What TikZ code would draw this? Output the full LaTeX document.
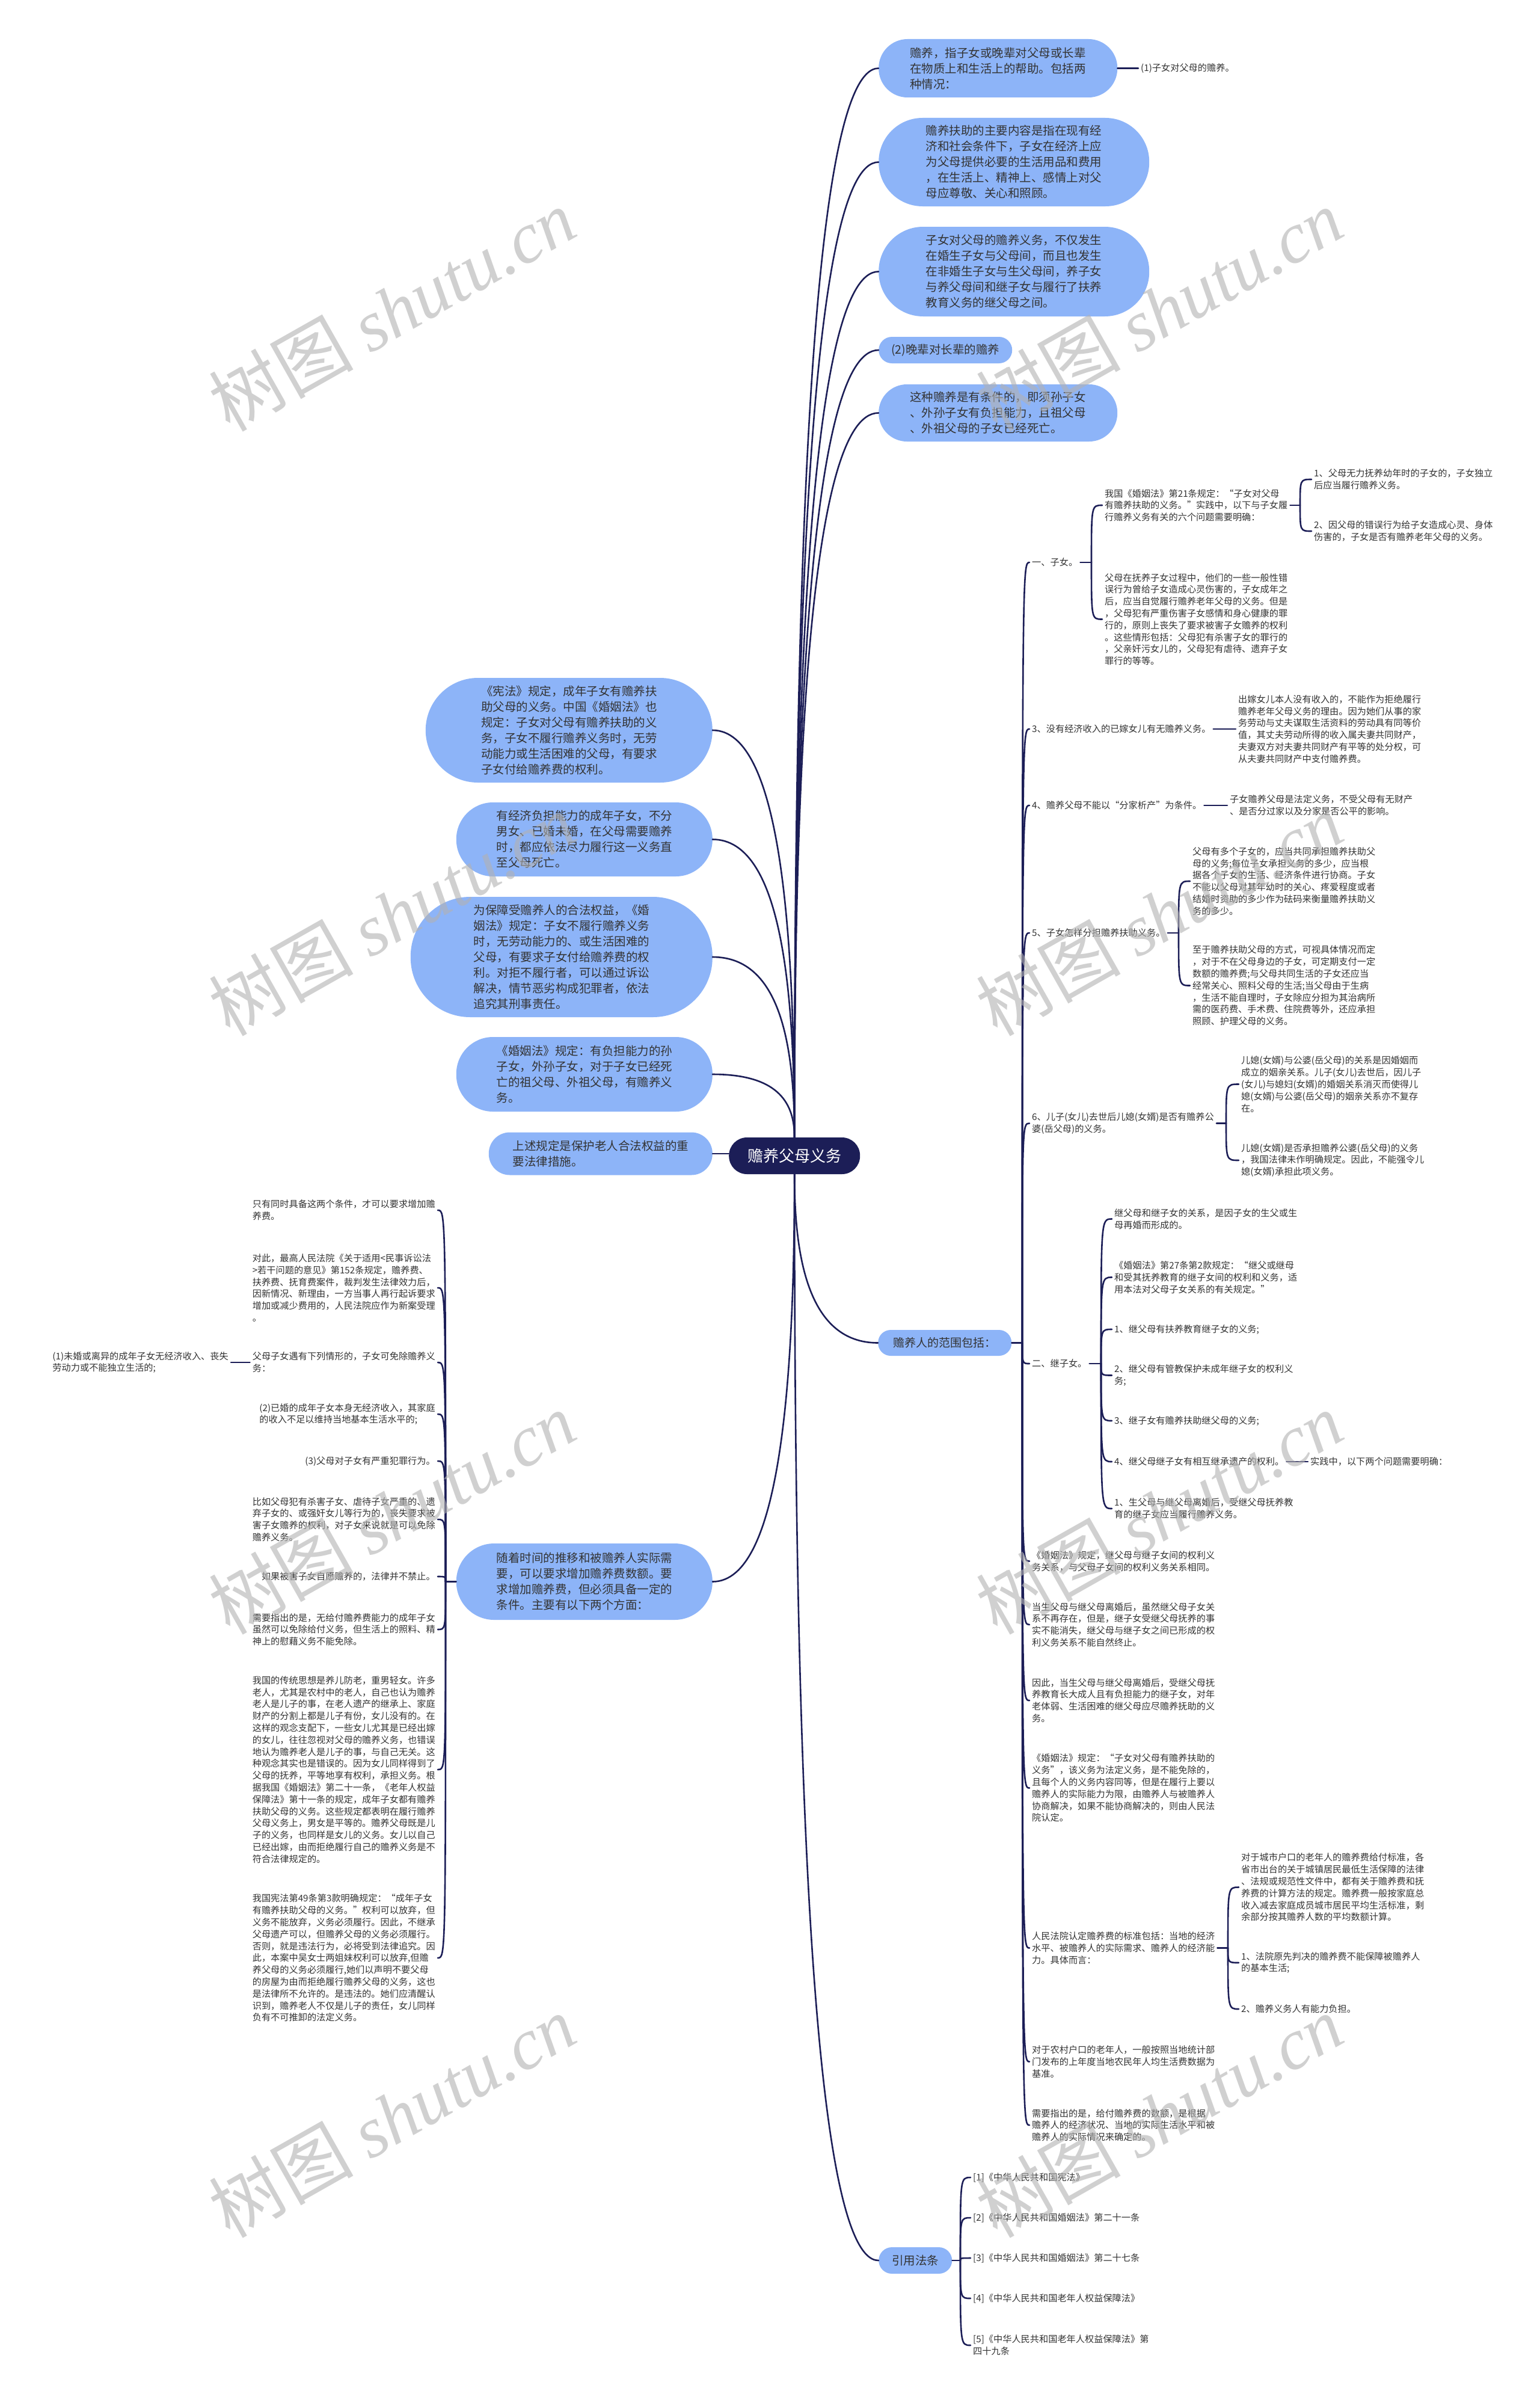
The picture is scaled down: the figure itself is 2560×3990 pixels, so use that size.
\documentclass[tikz,border=0pt]{standalone}
\usepackage{fontspec}
\setmainfont{Noto Sans CJK SC}
\newfontfamily\wmlatin{Liberation Serif}
\usetikzlibrary{calc}
\definecolor{navy}{HTML}{1C1E57}
\definecolor{bblue}{HTML}{8DB4F8}
\definecolor{tgray}{HTML}{333333}
\begin{document}
\begin{tikzpicture}[x=1pt,y=-1pt]
\tikzset{
 conn/.style={draw=navy, line width=2.6pt, line cap=round, line join=round},
 txt/.style={font=\fontsize{15.2}{19.8}\selectfont, align=left, inner xsep=4pt, inner ysep=1pt, text=tgray},
 bub/.style={fill=bblue, font=\fontsize{19.5}{26}\selectfont, align=left, text=tgray, inner sep=0pt},
 rootn/.style={fill=navy, text=white, font=\fontsize{26}{30}\selectfont, inner sep=0pt},
 wm/.style={rotate=29.5, text=black!30, opacity=0.6, font=\fontsize{120}{130}\selectfont},
}
\fill[white] (0,0) rectangle (2560,3990);
\useasboundingbox (0,0) rectangle (2560,3990);

% ---------- root ----------
\node[rootn, anchor=west, minimum width=218, minimum height=61, rounded corners=30] (root) at (1212,1921.5) {赡养父母义务};

% ---------- right top bubbles ----------
\node[bub, anchor=west, minimum width=397, minimum height=97, rounded corners=48] (r1) at (1461,113.5)
 {赡养，指子女或晚辈对父母或长辈\\在物质上和生活上的帮助。包括两\\种情况：};
\node[txt, anchor=west] (r1a) at (1893,113.5) {(1)子女对父母的赡养。};
\node[bub, anchor=west, minimum width=450, minimum height=147, rounded corners=73] (r2) at (1461,269.5)
 {赡养扶助的主要内容是指在现有经\\济和社会条件下，子女在经济上应\\为父母提供必要的生活用品和费用\\，在生活上、精神上、感情上对父\\母应尊敬、关心和照顾。};
\node[bub, anchor=west, minimum width=450, minimum height=149, rounded corners=74] (r3) at (1461,451.5)
 {子女对父母的赡养义务，不仅发生\\在婚生子女与父母间，而且也发生\\在非婚生子女与生父母间，养子女\\与养父母间和继子女与履行了扶养\\教育义务的继父母之间。};
\node[bub, anchor=west, minimum width=222, minimum height=44, rounded corners=22] (r4) at (1461,582)
 {(2)晚辈对长辈的赡养};
\node[bub, anchor=west, minimum width=397, minimum height=95, rounded corners=47] (r5) at (1461,686.5)
 {这种赡养是有条件的，即须孙子女\\、外孙子女有负担能力，且祖父母\\、外祖父母的子女已经死亡。};

% ---------- left bubbles ----------
\node[bub, anchor=east, minimum width=477, minimum height=174, rounded corners=87] (l1) at (1185,1214)
 {《宪法》规定，成年子女有赡养扶\\助父母的义务。中国《婚姻法》也\\规定：子女对父母有赡养扶助的义\\务，子女不履行赡养义务时，无劳\\动能力或生活困难的父母，有要求\\子女付给赡养费的权利。};
\node[bub, anchor=east, minimum width=426, minimum height=123, rounded corners=61] (l2) at (1185,1395.5)
 {有经济负担能力的成年子女，不分\\男女、已婚未婚，在父母需要赡养\\时，都应依法尽力履行这一义务直\\至父母死亡。};
\node[bub, anchor=east, minimum width=502, minimum height=200, rounded corners=99] (l3) at (1185,1591)
 {为保障受赡养人的合法权益，《婚\\姻法》规定：子女不履行赡养义务\\时，无劳动能力的、或生活困难的\\父母，有要求子女付给赡养费的权\\利。对拒不履行者，可以通过诉讼\\解决，情节恶劣构成犯罪者，依法\\追究其刑事责任。};
\node[bub, anchor=east, minimum width=426, minimum height=124, rounded corners=61] (l4) at (1185,1786)
 {《婚姻法》规定：有负担能力的孙\\子女，外孙子女，对于子女已经死\\亡的祖父母、外祖父母，有赡养义\\务。};
\node[bub, anchor=east, minimum width=372, minimum height=71, rounded corners=35] (l5) at (1185,1918)
 {上述规定是保护老人合法权益的重\\要法律措施。};
\node[bub, anchor=east, minimum width=426, minimum height=127, rounded corners=63] (l6) at (1185,2629.5)
 {随着时间的推移和被赡养人实际需\\要，可以要求增加赡养费数额。要\\求增加赡养费，但必须具备一定的\\条件。主要有以下两个方面：};

% ---------- left column (children of l6) ----------
\node[txt, anchor=east] (c1) at (728,2012) {只有同时具备这两个条件，才可以要求增加赡\\养费。};
\node[txt, anchor=east] (c2) at (728,2141) {对此，最高人民法院《关于适用<民事诉讼法\\>若干问题的意见》第152条规定，赡养费、\\扶养费、抚育费案件，裁判发生法律效力后，\\因新情况、新理由，一方当事人再行起诉要求\\增加或减少费用的，人民法院应作为新案受理\\。};
\node[txt, anchor=east] (c3) at (728,2265) {父母子女遇有下列情形的，子女可免除赡养义\\务：};
\node[txt, anchor=east] (c3a) at (384,2265) {(1)未婚或离异的成年子女无经济收入、丧失\\劳动力或不能独立生活的;};
\node[txt, anchor=east] (c4) at (728,2351) {(2)已婚的成年子女本身无经济收入，其家庭\\的收入不足以维持当地基本生活水平的;};
\node[txt, anchor=east] (c5) at (728,2429) {(3)父母对子女有严重犯罪行为。};
\node[txt, anchor=east] (c6) at (728,2526) {比如父母犯有杀害子女、虐待子女严重的、遗\\弃子女的、或强奸女儿等行为的，丧失要求被\\害子女赡养的权利，对子女来说就是可以免除\\赡养义务。};
\node[txt, anchor=east] (c7) at (728,2621) {如果被害子女自愿赡养的，法律并不禁止。};
\node[txt, anchor=east] (c8) at (728,2709) {需要指出的是，无给付赡养费能力的成年子女\\虽然可以免除给付义务，但生活上的照料、精\\神上的慰藉义务不能免除。};
\node[txt, anchor=east] (c9) at (728,2942) {我国的传统思想是养儿防老，重男轻女。许多\\老人，尤其是农村中的老人，自己也认为赡养\\老人是儿子的事，在老人遗产的继承上、家庭\\财产的分割上都是儿子有份，女儿没有的。在\\这样的观念支配下，一些女儿尤其是已经出嫁\\的女儿，往往忽视对父母的赡养义务，也错误\\地认为赡养老人是儿子的事，与自己无关。这\\种观念其实也是错误的。因为女儿同样得到了\\父母的抚养，平等地享有权利，承担义务。根\\据我国《婚姻法》第二十一条，《老年人权益\\保障法》第十一条的规定，成年子女都有赡养\\扶助父母的义务。这些规定都表明在履行赡养\\父母义务上，男女是平等的。赡养父母既是儿\\子的义务，也同样是女儿的义务。女儿以自己\\已经出嫁，由而拒绝履行自己的赡养义务是不\\符合法律规定的。};
\node[txt, anchor=east] (c10) at (728,3255) {我国宪法第49条第3款明确规定：“成年子女\\有赡养扶助父母的义务。”权利可以放弃，但\\义务不能放弃，义务必须履行。因此，不继承\\父母遗产可以，但赡养父母的义务必须履行。\\否则，就是违法行为，必将受到法律追究。因\\此，本案中吴女士两姐妹权利可以放弃,但赡\\养父母的义务必须履行,她们以声明不要父母\\的房屋为由而拒绝履行赡养父母的义务，这也\\是法律所不允许的。是违法的。她们应清醒认\\识到，赡养老人不仅是儿子的责任，女儿同样\\负有不可推卸的法定义务。};

% ---------- 赡养人的范围包括 ----------
\node[bub, anchor=west, minimum width=222, minimum height=43, rounded corners=21, font=\fontsize{19}{24}\selectfont] (s) at (1460,2232.5) {赡养人的范围包括：};

\node[txt, anchor=west] (a1) at (1712,935) {一、子女。};
\node[txt, anchor=west] (b1) at (1833,840) {我国《婚姻法》第21条规定：“子女对父母\\有赡养扶助的义务。”实践中，以下与子女履\\行赡养义务有关的六个问题需要明确：};
\node[txt, anchor=west] (b1a) at (2181,797) {1、父母无力抚养幼年时的子女的，子女独立\\后应当履行赡养义务。};
\node[txt, anchor=west] (b1b) at (2181,883) {2、因父母的错误行为给子女造成心灵、身体\\伤害的，子女是否有赡养老年父母的义务。};
\node[txt, anchor=west] (b2) at (1833,1029.5) {父母在抚养子女过程中，他们的一些一般性错\\误行为曾给子女造成心灵伤害的，子女成年之\\后，应当自觉履行赡养老年父母的义务。但是\\，父母犯有严重伤害子女感情和身心健康的罪\\行的，原则上丧失了要求被害子女赡养的权利\\。这些情形包括：父母犯有杀害子女的罪行的\\，父亲奸污女儿的，父母犯有虐待、遗弃子女\\罪行的等等。};

\node[txt, anchor=west] (a3) at (1712,1212) {3、没有经济收入的已嫁女儿有无赡养义务。};
\node[txt, anchor=west] (a3c) at (2055,1212) {出嫁女儿本人没有收入的，不能作为拒绝履行\\赡养老年父母义务的理由。因为她们从事的家\\务劳动与丈夫谋取生活资料的劳动具有同等价\\值，其丈夫劳动所得的收入属夫妻共同财产，\\夫妻双方对夫妻共同财产有平等的处分权，可\\从夫妻共同财产中支付赡养费。};

\node[txt, anchor=west] (a4) at (1712,1339) {4、赡养父母不能以“分家析产”为条件。};
\node[txt, anchor=west] (a4c) at (2041,1339) {子女赡养父母是法定义务，不受父母有无财产\\、是否分过家以及分家是否公平的影响。};

\node[txt, anchor=west] (a5) at (1712,1551) {5、子女怎样分担赡养扶助义务。};
\node[txt, anchor=west] (b5a) at (1979,1465) {父母有多个子女的，应当共同承担赡养扶助父\\母的义务;每位子女承担义务的多少，应当根\\据各个子女的生活、经济条件进行协商。子女\\不能以父母对其年幼时的关心、疼爱程度或者\\结婚时资助的多少作为砝码来衡量赡养扶助义\\务的多少。};
\node[txt, anchor=west] (b5b) at (1979,1638.5) {至于赡养扶助父母的方式，可视具体情况而定\\，对于不在父母身边的子女，可定期支付一定\\数额的赡养费;与父母共同生活的子女还应当\\经常关心、照料父母的生活;当父母由于生病\\，生活不能自理时，子女除应分担为其治病所\\需的医药费、手术费、住院费等外，还应承担\\照顾、护理父母的义务。};

\node[txt, anchor=west] (a6) at (1712,1867.5) {6、儿子(女儿)去世后儿媳(女婿)是否有赡养公\\婆(岳父母)的义务。};
\node[txt, anchor=west] (b6a) at (2060,1802.5) {儿媳(女婿)与公婆(岳父母)的关系是因婚姻而\\成立的姻亲关系。儿子(女儿)去世后，因儿子\\(女儿)与媳妇(女婿)的婚姻关系消灭而使得儿\\媳(女婿)与公婆(岳父母)的姻亲关系亦不复存\\在。};
\node[txt, anchor=west] (b6b) at (2060,1929) {儿媳(女婿)是否承担赡养公婆(岳父母)的义务\\，我国法律未作明确规定。因此，不能强令儿\\媳(女婿)承担此项义务。};

\node[txt, anchor=west] (a7) at (1712,2267) {二、继子女。};
\node[txt, anchor=west] (b7a) at (1849,2026.5) {继父母和继子女的关系，是因子女的生父或生\\母再婚而形成的。};
\node[txt, anchor=west] (b7b) at (1849,2123.5) {《婚姻法》第27条第2款规定：“继父或继母\\和受其抚养教育的继子女间的权利和义务，适\\用本法对父母子女关系的有关规定。”};
\node[txt, anchor=west] (b7c) at (1849,2210) {1、继父母有扶养教育继子女的义务;};
\node[txt, anchor=west] (b7d) at (1849,2286.5) {2、继父母有管教保护未成年继子女的权利义\\务;};
\node[txt, anchor=west] (b7e) at (1849,2362) {3、继子女有赡养扶助继父母的义务;};
\node[txt, anchor=west] (b7f) at (1849,2430) {4、继父母继子女有相互继承遗产的权利。};
\node[txt, anchor=west] (b7fc) at (2175,2430) {实践中，以下两个问题需要明确：};
\node[txt, anchor=west] (b7g) at (1849,2508) {1、生父母与继父母离婚后，受继父母抚养教\\育的继子女应当履行赡养义务。};

\node[txt, anchor=west] (a8) at (1712,2595.5) {《婚姻法》规定，继父母与继子女间的权利义\\务关系，与父母子女间的权利义务关系相同。};
\node[txt, anchor=west] (a9) at (1712,2701) {当生父母与继父母离婚后，虽然继父母子女关\\系不再存在，但是，继子女受继父母抚养的事\\实不能消失，继父母与继子女之间已形成的权\\利义务关系不能自然终止。};
\node[txt, anchor=west] (a10) at (1712,2827) {因此，当生父母与继父母离婚后，受继父母抚\\养教育长大成人且有负担能力的继子女，对年\\老体弱、生活困难的继父母应尽赡养抚助的义\\务。};
\node[txt, anchor=west] (a11) at (1712,2972.5) {《婚姻法》规定：“子女对父母有赡养扶助的\\义务”，该义务为法定义务，是不能免除的，\\且每个人的义务内容同等，但是在履行上要以\\赡养人的实际能力为限，由赡养人与被赡养人\\协商解决，如果不能协商解决的，则由人民法\\院认定。};
\node[txt, anchor=west] (a12) at (1712,3238.5) {人民法院认定赡养费的标准包括：当地的经济\\水平、被赡养人的实际需求、赡养人的经济能\\力。具体而言：};
\node[txt, anchor=west] (b12a) at (2060,3137.5) {对于城市户口的老年人的赡养费给付标准，各\\省市出台的关于城镇居民最低生活保障的法律\\、法规或规范性文件中，都有关于赡养费和抚\\养费的计算方法的规定。赡养费一般按家庭总\\收入减去家庭成员城市居民平均生活标准，剩\\余部分按其赡养人数的平均数额计算。};
\node[txt, anchor=west] (b12b) at (2060,3263) {1、法院原先判决的赡养费不能保障被赡养人\\的基本生活;};
\node[txt, anchor=west] (b12c) at (2060,3340) {2、赡养义务人有能力负担。};
\node[txt, anchor=west] (a13) at (1712,3427.5) {对于农村户口的老年人，一般按照当地统计部\\门发布的上年度当地农民年人均生活费数据为\\基准。};
\node[txt, anchor=west] (a14) at (1712,3533) {需要指出的是，给付赡养费的数额，是根据\\赡养人的经济状况、当地的实际生活水平和被\\赡养人的实际情况来确定的。};

% ---------- 引用法条 ----------
\node[bub, anchor=west, minimum width=122, minimum height=44, rounded corners=22] (y) at (1461,3758) {引用法条};
\node[txt, anchor=west] (y1) at (1614,3620) {[1]《中华人民共和国宪法》};
\node[txt, anchor=west] (y2) at (1614,3687) {[2]《中华人民共和国婚姻法》第二十一条};
\node[txt, anchor=west] (y3) at (1614,3754) {[3]《中华人民共和国婚姻法》第二十七条};
\node[txt, anchor=west] (y4) at (1614,3821) {[4]《中华人民共和国老年人权益保障法》};
\node[txt, anchor=west] (y5) at (1614,3899) {[5]《中华人民共和国老年人权益保障法》第\\四十九条};

% ---------- junction coordinates ----------
\coordinate (sj) at (1700,2232.5);
\coordinate (a1j) at (1815,935);
\coordinate (b1j) at (2162,840);
\coordinate (a5j) at (1960,1551);
\coordinate (a6j) at (2039,1867.5);
\coordinate (a7j) at (1831,2267);
\coordinate (a12j) at (2042,3238.5);
\coordinate (yj) at (1597,3758);
\coordinate (l6j) at (741,2629.5);

% ---------- root connectors ----------
\draw[conn] (root.north) .. controls (1321,1002) and (1345,113.5) .. (r1.west);
\draw[conn] (root.north) .. controls (1321,1080) and (1345,269.5) .. (r2.west);
\draw[conn] (root.north) .. controls (1321,1171) and (1345,451.5) .. (r3.west);
\draw[conn] (root.north) .. controls (1321,1236) and (1345,582) .. (r4.west);
\draw[conn] (root.north) .. controls (1321,1289) and (1345,686.5) .. (r5.west);
\draw[conn] (r1.east) -- (r1a.west);

\draw[conn] (root.north) .. controls (1321,1552) and (1299,1214) .. (l1.east);
\draw[conn] (root.north) .. controls (1321,1643) and (1299,1395.5) .. (l2.east);
\draw[conn] (root.north) .. controls (1321,1741) and (1299,1591) .. (l3.east);
\draw[conn] (root.north) .. controls (1321,1838) and (1299,1786) .. (l4.east);
\draw[conn] (l5.east) -- (l5.east -| root.west);
\draw[conn] (root.south) .. controls (1321,2290) and (1299,2629.5) .. (l6.east);

\draw[conn] (root.south) .. controls (1321,2092) and (1345,2232.5) .. (s.west);
\draw[conn] (root.south) .. controls (1321,2855) and (1345,3758) .. (y.west);

% ---------- 赡养人的范围 children ----------
\draw[conn] (s.east) -- (sj);
\foreach \c in {a1,a3,a4,a5,a6,a7,a8,a9,a10,a11,a12,a13,a14}
  \draw[conn] (sj) .. controls (sj |- \c.west) .. (\c.west);

\draw[conn] (a1.east) -- (a1j);
\foreach \c in {b1,b2} \draw[conn] (a1j) .. controls (a1j |- \c.west) .. (\c.west);
\draw[conn] (b1.east) -- (b1j);
\foreach \c in {b1a,b1b} \draw[conn] (b1j) .. controls (b1j |- \c.west) .. (\c.west);
\draw[conn] (a3.east) -- (a3c.west);
\draw[conn] (a4.east) -- (a4c.west);
\draw[conn] (a5.east) -- (a5j);
\foreach \c in {b5a,b5b} \draw[conn] (a5j) .. controls (a5j |- \c.west) .. (\c.west);
\draw[conn] (a6.east) -- (a6j);
\foreach \c in {b6a,b6b} \draw[conn] (a6j) .. controls (a6j |- \c.west) .. (\c.west);
\draw[conn] (a7.east) -- (a7j);
\foreach \c in {b7a,b7b,b7c,b7d,b7e,b7f,b7g} \draw[conn] (a7j) .. controls (a7j |- \c.west) .. (\c.west);
\draw[conn] (b7f.east) -- (b7fc.west);
\draw[conn] (a12.east) -- (a12j);
\foreach \c in {b12a,b12b,b12c} \draw[conn] (a12j) .. controls (a12j |- \c.west) .. (\c.west);

\draw[conn] (y.east) -- (yj);
\foreach \c in {y1,y2,y3,y4,y5} \draw[conn] (yj) .. controls (yj |- \c.west) .. (\c.west);

% ---------- left column connectors ----------
\draw[conn] (l6.west) -- (l6j);
\foreach \c in {c1,c2,c3,c4,c5,c6,c7,c8,c9,c10}
  \draw[conn] (l6j) .. controls (l6j |- \c.east) .. (\c.east);
\draw[conn] (c3.west) -- (c3.west -| c3a.east);

% ---------- watermarks ----------
\foreach \wx/\wy [count=\i] in {652/515,1928/515,652/1520,1928/1520,652/2515,1928/2515,652/3518,1928/3518}
  \node[wm] (wm\i) at (\wx,\wy) {树图 {\wmlatin\itshape shutu.cn}};
\end{tikzpicture}
\end{document}
